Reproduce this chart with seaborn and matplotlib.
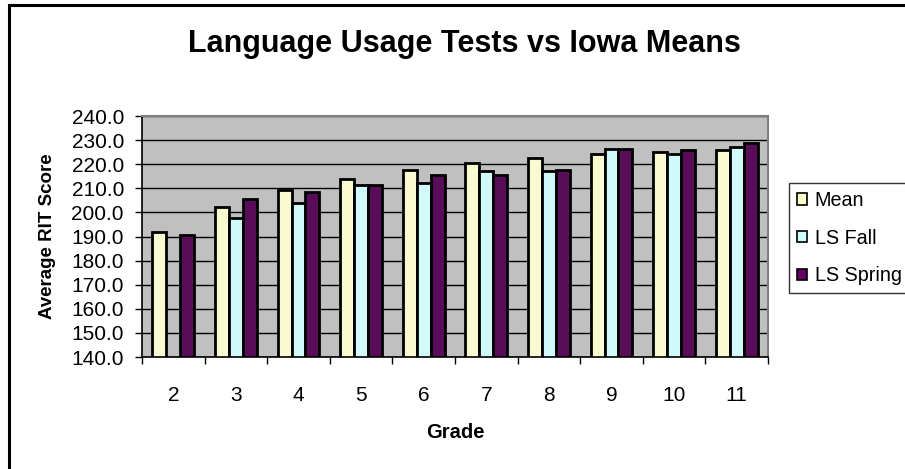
import matplotlib
matplotlib.use("Agg")
import matplotlib.pyplot as plt
import matplotlib.patches as mpatches
from matplotlib.ticker import FormatStrFormatter, MultipleLocator, FixedLocator
import numpy as np
import pandas as pd
import seaborn as sns

# data
grades = ["2", "3", "4", "5", "6", "7", "8", "9", "10", "11"]
mean_vals = [192.0, 202.1, 209.3, 214.0, 217.8, 220.3, 222.5, 224.2, 225.0, 225.7]
ls_fall = [np.nan, 197.6, 203.8, 211.4, 212.4, 217.1, 217.1, 226.4, 224.2, 227.3]
ls_spring = [190.5, 205.4, 208.5, 211.5, 215.5, 215.5, 217.8, 226.4, 225.7, 229.0]
series = ["Mean", "LS Fall", "LS Spring"]
colors = {"Mean": "#FFFFCC", "LS Fall": "#CCFFFF", "LS Spring": "#660066"}

df = pd.DataFrame({"Grade": grades, "Mean": mean_vals,
                   "LS Fall": ls_fall, "LS Spring": ls_spring})
long = df.melt(id_vars="Grade", var_name="Series", value_name="Score")

sns.set_style("white")
plt.rcParams["font.family"] = ["Liberation Sans", "DejaVu Sans"]
plt.rcParams["text.color"] = "black"
plt.rcParams["axes.labelcolor"] = "black"
plt.rcParams["xtick.color"] = "black"
plt.rcParams["ytick.color"] = "black"

fig = plt.figure(figsize=(9.05, 4.69), dpi=100)
ax = fig.add_axes([142 / 905, 1 - 357 / 469, (768 - 142) / 905, (357 - 116) / 469])
ax.set_facecolor("#C0C0C0")

sns.barplot(data=long, x="Grade", y="Score", hue="Series", order=grades,
            hue_order=series, palette=colors, edgecolor="black", linewidth=2.0,
            width=0.667, gap=0, ax=ax, legend=False)

ax.set_ylim(140, 240)
ax.set_xlim(-0.5, len(grades) - 0.5)
ax.yaxis.set_major_locator(MultipleLocator(10))
ax.yaxis.set_major_formatter(FormatStrFormatter("%.1f"))
ax.grid(axis="y", color="black", linewidth=1)
ax.set_axisbelow(True)

# category-boundary ticks like Excel
ax.xaxis.set_minor_locator(FixedLocator(np.arange(-0.5, len(grades), 1.0)))
ax.tick_params(axis="x", which="major", length=0, pad=21, labelsize=15)
ax.tick_params(axis="x", which="minor", length=5, width=1, color="black", direction="out")
ax.tick_params(axis="y", length=5, width=1, color="black", direction="out",
               pad=8, labelsize=15)
ax.xaxis.set_ticks_position("bottom")
ax.yaxis.set_ticks_position("left")

for side in ["top", "right"]:
    ax.spines[side].set_color("#808080")
    ax.spines[side].set_linewidth(1.5)
for side in ["left", "bottom"]:
    ax.spines[side].set_color("black")
    ax.spines[side].set_linewidth(1.2)

ax.set_xlabel("Grade", fontsize=14.5, fontweight="bold", labelpad=13)
ax.set_ylabel("Average RIT Score", fontsize=13.5, fontweight="bold", labelpad=11)

fig.text(464 / 905, 1 - 44 / 469, "Language Usage Tests vs Iowa Means",
         ha="center", va="center", fontsize=22, fontweight="bold")

handles = [mpatches.Patch(facecolor=colors[s], edgecolor="black", linewidth=1.2, label=s)
           for s in series]
leg = fig.legend(handles=handles, loc="upper left",
                 bbox_to_anchor=(789 / 905, 1 - 183 / 469), borderaxespad=0,
                 fontsize=14.2, frameon=True, fancybox=False, edgecolor="black",
                 handlelength=0.5, handleheight=0.5, handletextpad=0.4,
                 labelspacing=0.95, borderpad=0.4)
leg.get_frame().set_linewidth(1)

# outer chart border
fig.patches.append(mpatches.Rectangle((9 / 905, -0.1), 1.0, 1.1 - 5 / 469,
                                      transform=fig.transFigure, fill=False,
                                      edgecolor="black", linewidth=2.2))

fig.savefig("out.png", dpi=100)
